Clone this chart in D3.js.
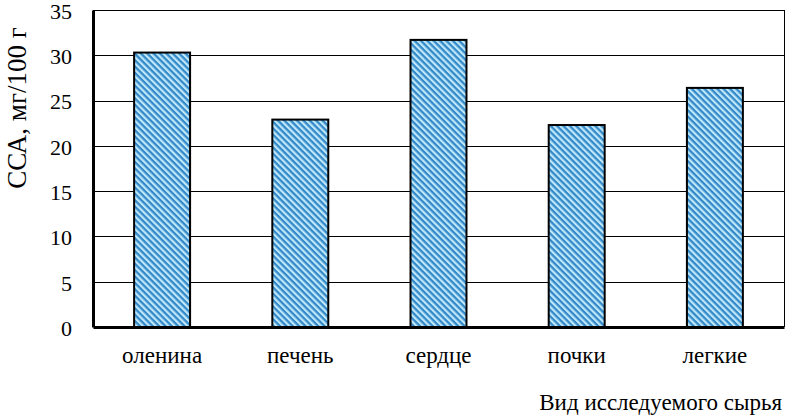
<!DOCTYPE html>
<html><head><meta charset="utf-8">
<script src="https://cdn.jsdelivr.net/npm/d3@7"></script>
<style>body{margin:0;background:#fff}svg{display:block}
text{font-family:"Liberation Serif","Times New Roman",Times,"Nimbus Roman",FreeSerif,Tinos,"Noto Serif","DejaVu Serif",serif;}</style>
</head><body>
<script>
const categories = ["оленина","печень","сердце","почки","легкие"];
const values = [30.3, 22.9, 31.7, 22.3, 26.4];
const yTicks = [0,5,10,15,20,25,30,35];
const yTitle = "ССА, мг/100 г";
const xTitle = "Вид исследуемого сырья";

const W=786,H=417;
const m={left:93,right:2,top:10,bottom:90};
const svg=d3.select("body").append("svg").attr("width",W).attr("height",H);
const defs=svg.append("defs");
const pat=defs.append("pattern").attr("id","hatch").attr("patternUnits","userSpaceOnUse")
  .attr("width",4.5).attr("height",4.5).attr("patternTransform","rotate(45)");
pat.append("rect").attr("width",4.5).attr("height",4.5).attr("fill","#bfe8fa");
pat.append("rect").attr("width",4.5).attr("height",2.3).attr("fill","#3489c9");

const x=d3.scaleBand().domain(categories).range([m.left,W-m.right]).paddingInner(0.595).paddingOuter(0.2975);
const y=d3.scaleLinear().domain([0,35]).range([H-m.bottom,m.top]);

svg.append("g").selectAll("line").data(yTicks.filter(d=>d>0)).join("line")
 .attr("x1",m.left).attr("x2",W-m.right).attr("y1",d=>Math.round(y(d))+0.5).attr("y2",d=>Math.round(y(d))+0.5)
 .attr("stroke","#000").attr("stroke-width",1);
svg.append("line").attr("x1",W-m.right+0.5).attr("x2",W-m.right+0.5).attr("y1",y(35)).attr("y2",y(0)).attr("stroke","#000");

svg.append("g").selectAll("rect").data(values).join("rect")
 .attr("x",(d,i)=>x(categories[i])).attr("width",x.bandwidth())
 .attr("y",d=>y(d)).attr("height",d=>y(0)-y(d))
 .attr("fill","url(#hatch)").attr("stroke","#000").attr("stroke-width",2);

const ya=d3.axisLeft(y).tickValues(yTicks).tickSize(0).tickPadding(21);
const gy=svg.append("g").attr("transform",`translate(${m.left},0)`).call(ya).attr("font-family",null).attr("font-size",null);
gy.select(".domain").attr("stroke","#000").attr("stroke-width",3);
gy.selectAll("text").style("font-size","22px").attr("fill","#000").attr("dy","0.38em");

const xa=d3.axisBottom(x).tickSize(0).tickPadding(20);
const gx=svg.append("g").attr("transform",`translate(0,${y(0)})`).call(xa).attr("font-family",null).attr("font-size",null);
gx.select(".domain").attr("stroke","#000").attr("stroke-width",3);
gx.selectAll("text").style("font-size","23px").attr("fill","#000");

svg.append("text").attr("transform","translate(26,108) rotate(-90)").attr("text-anchor","middle")
 .style("font-size","27px").text(yTitle);
svg.append("text").attr("x",782).attr("y",410).attr("text-anchor","end")
 .style("font-size","23px").text(xTitle);
</script>
</body></html>
